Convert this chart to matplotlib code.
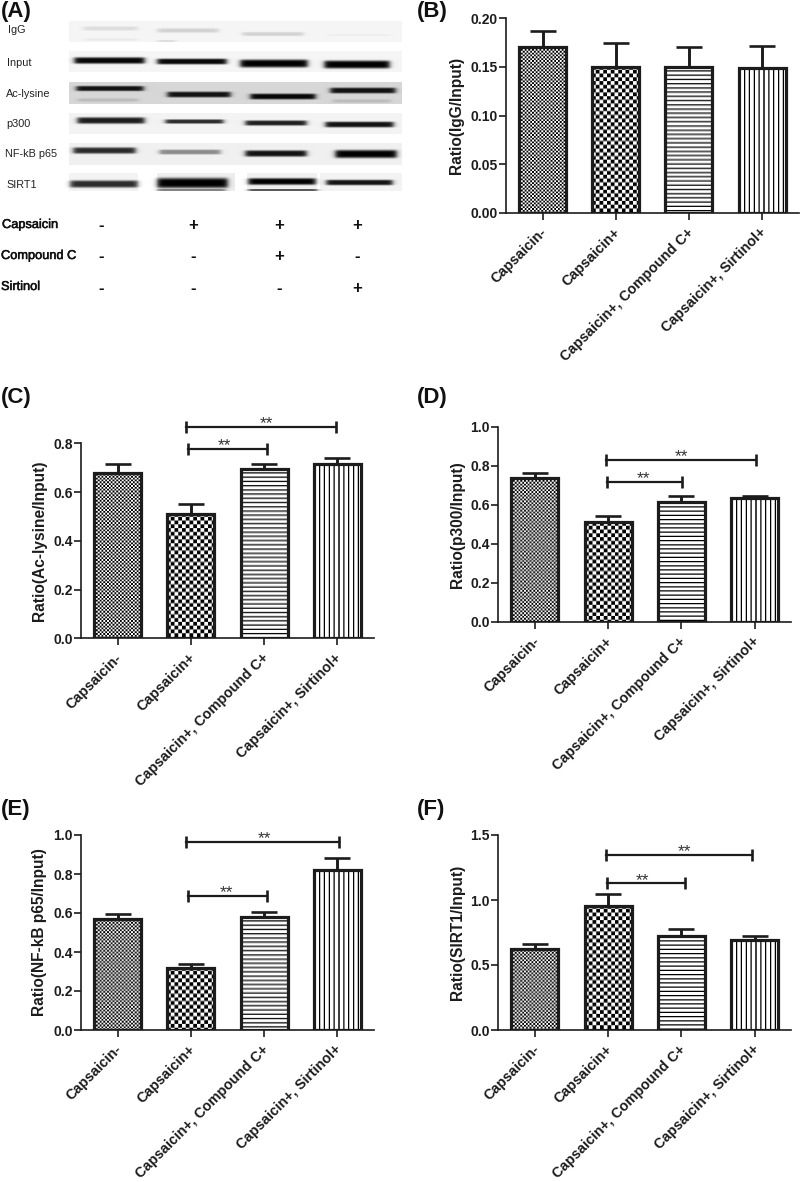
import numpy as np
import matplotlib
matplotlib.use('Agg')
import matplotlib.pyplot as plt
import matplotlib.patheffects as pe
from matplotlib.transforms import ScaledTranslation

plt.rcParams['font.family'] = ['Liberation Sans', 'DejaVu Sans']
plt.rcParams['axes.linewidth'] = 1.2

W, H = 800, 1182
INK = '#1c1c1c'

# chart values
groups = ['Capsaicin-', 'Capsaicin+', 'Capsaicin+, Compound C+', 'Capsaicin+, Sirtinol+']
vals_b = [0.170, 0.150, 0.150, 0.149]
errs_b = [0.017, 0.024, 0.020, 0.022]
vals_c = [0.68, 0.51, 0.695, 0.715]
errs_c = [0.035, 0.04, 0.02, 0.025]
vals_d = [0.735, 0.51, 0.613, 0.633]
errs_d = [0.03, 0.032, 0.03, 0.014]
vals_e = [0.57, 0.32, 0.58, 0.82]
errs_e = [0.027, 0.02, 0.026, 0.06]
vals_f = [0.625, 0.955, 0.72, 0.69]
errs_f = [0.04, 0.09, 0.055, 0.035]

# blot bands: x0, x1, y, thickness, darkness (picture pixels)
blot_rows = ['IgG', 'Input', 'Ac-lysine', 'p300', 'NF-kB p65', 'SIRT1']
blot_strips = [(21, 42, 0.96), (51, 72, 0.96), (82, 104, 0.84), (113, 134, 0.95), (143, 165, 0.94)]
sirt_strips = [(69, 138, 0.95), (157, 235, 0.93), (247, 317, 0.94), (320, 402, 0.95)]
blot_bands = [
    (83, 137, 28.5, 3, 0.10), (157, 218, 30.5, 3, 0.14), (242, 303, 34, 2.8, 0.14), (327, 390, 35, 1.5, 0.03),
    (84, 137, 39.5, 1.5, 0.05), (157, 175, 41, 1, 0.12),
    (74, 144, 60.5, 4.5, 0.97), (157, 226, 61.5, 4, 0.97), (240, 307, 63.5, 5.5, 1.0), (324, 389, 64.5, 5.5, 1.0),
    (76, 143, 88.5, 3.6, 0.92), (167, 230, 94.5, 4, 0.92), (250, 315, 96.5, 4, 0.97), (330, 395, 90.5, 4, 0.92),
    (77, 138, 100, 2.5, 0.12), (332, 390, 101, 2.5, 0.12),
    (77, 144, 120.5, 4.5, 0.88), (165, 223, 121.5, 3, 0.82), (245, 306, 123, 3.6, 0.87), (325, 393, 124.5, 4, 0.92),
    (73, 135, 150.5, 4.4, 0.82), (159, 220, 152, 3.4, 0.42), (245, 306, 153.5, 4.4, 0.92), (335, 396, 154, 5.6, 1.0),
    (70, 137, 184, 5, 0.82), (157, 227, 183, 7, 1.0), (248, 315, 181.5, 4.6, 1.0), (326, 392, 182.5, 3.8, 0.92),
    (248, 317, 190, 1.2, 0.7), (157, 225, 190, 1.2, 0.5),
]

treat_names = ['Capsaicin', 'Compound C', 'Sirtinol']
treat_signs = [['-', '+', '+', '+'], ['-', '-', '+', '-'], ['-', '-', '-', '+']]

# layout in picture pixels
BAR_STEP = 73.2
BAR_W = 47 / BAR_STEP


def fig_box(left, top, width, height):
    return [left / W, 1 - (top + height) / H, width / W, height / H]


def fx(x):
    return x / W


def fy(y):
    return 1 - y / H


def pattern(kind, wpx, hpx):
    # drawn 4x oversized and averaged down so fine patterns keep their grey moire
    s = 4
    yy, xx = np.mgrid[0:hpx * s, 0:wpx * s] / s
    if kind == 0:
        img = (np.floor(xx / 1.85) + np.floor(yy / 1.85)) % 2
    elif kind == 1:
        img = (np.floor(xx / 3.72) + np.floor(yy / 3.72)) % 2
    elif kind == 2:
        img = (np.mod(yy, 4.2) > 1.25) * 1.0
    else:
        img = (np.mod(xx, 4.85) > 1.3) * 1.0
    return img.reshape(hpx, s, wpx, s).mean(axis=(1, 3))


def bar_panel(left, top, ymax, ticks, fmt, vals, errs, ylabel, label_off, brackets=()):
    height = 195.0
    ax = fig.add_axes(fig_box(left, top, 4 * BAR_STEP, height))
    for i, (v, e) in enumerate(zip(vals, errs)):
        ax.errorbar(i, v, yerr=[[0], [e]], color=INK, elinewidth=2.1, capsize=9.2, capthick=1.9, zorder=1.5)
        rect = ax.bar(i, v, width=BAR_W, facecolor='none', edgecolor=INK, linewidth=2.3, zorder=3)[0]
        hpx = max(int(round(v / ymax * height)), 1)
        im = ax.imshow(pattern(i, 47, hpx), cmap='gray', vmin=0, vmax=1, aspect='auto', zorder=2,
                       extent=(i - BAR_W / 2, i + BAR_W / 2, 0, v), interpolation='bilinear')
        im.set_clip_path(rect)
    ax.set_xlim(-0.5, 3.5)
    ax.set_ylim(0, ymax)
    ax.spines['top'].set_visible(False)
    ax.spines['right'].set_visible(False)
    for s in ['left', 'bottom']:
        ax.spines[s].set_color(INK)
    ax.set_yticks(ticks)
    ax.set_yticklabels([fmt % t for t in ticks], fontsize=10, fontweight='bold', color=INK)
    ax.set_xticks(range(4))
    ax.set_xticklabels(groups, rotation=45, ha='right', va='top', rotation_mode='anchor',
                       fontsize=10.3, fontweight='bold', color=INK)
    ax.tick_params(axis='y', length=5, width=1.2, pad=1, color=INK)
    ax.tick_params(axis='x', length=5, width=1.2, pad=4, color=INK)
    for lab in ax.get_xticklabels():
        lab.set_transform(lab.get_transform() + ScaledTranslation(-2 / 72, 0, fig.dpi_scale_trans))
    ax.set_ylabel(ylabel, fontsize=11.2, fontweight='bold', color=INK)
    ax.yaxis.set_label_coords(-label_off / (4 * BAR_STEP), 0.5)
    for x0, x1, y, xs in brackets:
        ax.plot([x0, x1], [y, y], '-|', color=INK, lw=1.6, ms=9, mew=1.9, clip_on=False, zorder=4)
        ax.annotate('**', xy=(xs, y), xytext=(0, -1), textcoords='offset points', ha='center', va='baseline',
                    fontsize=12.5, color='#333333', annotation_clip=False)
    return ax


fig = plt.figure(figsize=(W / 100, H / 100), dpi=100)

# (A) blot
img = np.ones((H, W))
for y0, y1, g in blot_strips:
    img[y0:y1, 69:402] = g
for x0, x1, g in sirt_strips:
    img[173:191, x0:x1] = g
yy, xx = np.mgrid[0:200, 0:W]
dark = np.zeros((200, W))
for x0, x1, yc, th, d in blot_bands:
    xprof = 0.5 * (np.tanh((xx - x0) / 3.0) - np.tanh((xx - x1) / 3.0))
    yprof = np.exp(-((yy + 0.5 - yc) / (th * 0.72)) ** 4)
    dark = np.maximum(dark, d * xprof * yprof)
blot = img[:200].copy()
blot *= 1 - dark
blot[:21] = 1
ax_blot = fig.add_axes([0, 1 - 200 / H, 1, 200 / H])
ax_blot.imshow(blot, cmap='gray', vmin=0, vmax=1, aspect='auto', interpolation='bilinear', extent=(0, W, 200, 0))
ax_blot.axis('off')

blot_label_x = [8, 7, 6, 6, 5, 6]
blot_label_y = [30, 63, 94, 124, 154, 185]
for name, x, y in zip(blot_rows, blot_label_x, blot_label_y):
    fig.text(fx(x), fy(y), name, fontsize=7.8, color='#222222', va='center')

treat_y = [225, 256, 287]
treat_x = [2, 1, 1]
lane_x = [101.5, 193, 279, 357.5]
for name, signs, y, x in zip(treat_names, treat_signs, treat_y, treat_x):
    t = fig.text(fx(x), fy(y), name, fontsize=9.2, color='#111111', va='center')
    t.set_path_effects([pe.withStroke(linewidth=0.4, foreground='#111111')])
    for lx, s in zip(lane_x, signs):
        fig.text(fx(lx), fy(y + 1), s, fontsize=12, fontweight='bold', color='#111111', ha='center', va='center')

bar_panel(506, 18, 0.20, [0, 0.05, 0.10, 0.15, 0.20], '%.2f', vals_b, errs_b, 'Ratio(IgG/Input)', 41.5)
bar_panel(81, 443.3, 0.8, [0, 0.2, 0.4, 0.6, 0.8], '%.1f', vals_c, errs_c, 'Ratio(Ac-lysine/Input)', 34,
          [(0.94, 2.99, 0.866, 2.03), (0.96, 2.04, 0.777, 1.46)])
bar_panel(498.3, 426.7, 1.0, [0, 0.2, 0.4, 0.6, 0.8, 1.0], '%.1f', vals_d, errs_d, 'Ratio(p300/Input)', 33.7,
          [(0.966, 3.02, 0.829, 2.0), (0.99, 2.01, 0.716, 1.49)])
bar_panel(81, 835, 1.0, [0, 0.2, 0.4, 0.6, 0.8, 1.0], '%.1f', vals_e, errs_e, 'Ratio(NF-kB p65/Input)', 34,
          [(0.94, 3.02, 0.964, 2.0), (0.96, 2.04, 0.687, 1.49)])
bar_panel(498.3, 835, 1.5, [0, 0.5, 1.0, 1.5], '%.1f', vals_f, errs_f, 'Ratio(SIRT1/Input)', 33.7,
          [(0.97, 2.97, 1.346, 2.04), (0.99, 2.05, 1.128, 1.47)])

panel_tags = ['(A)', '(B)', '(C)', '(D)', '(E)', '(F)']
tag_x = [1, 417, 1, 417, 1, 417]
tag_y = [11, 11, 398, 398, 810, 810]
for tag, x, y in zip(panel_tags, tag_x, tag_y):
    fig.text(fx(x), fy(y), tag, fontsize=16, fontweight='bold', color='#111111', va='center')

fig.savefig('out.png', dpi=100)
plt.close()
